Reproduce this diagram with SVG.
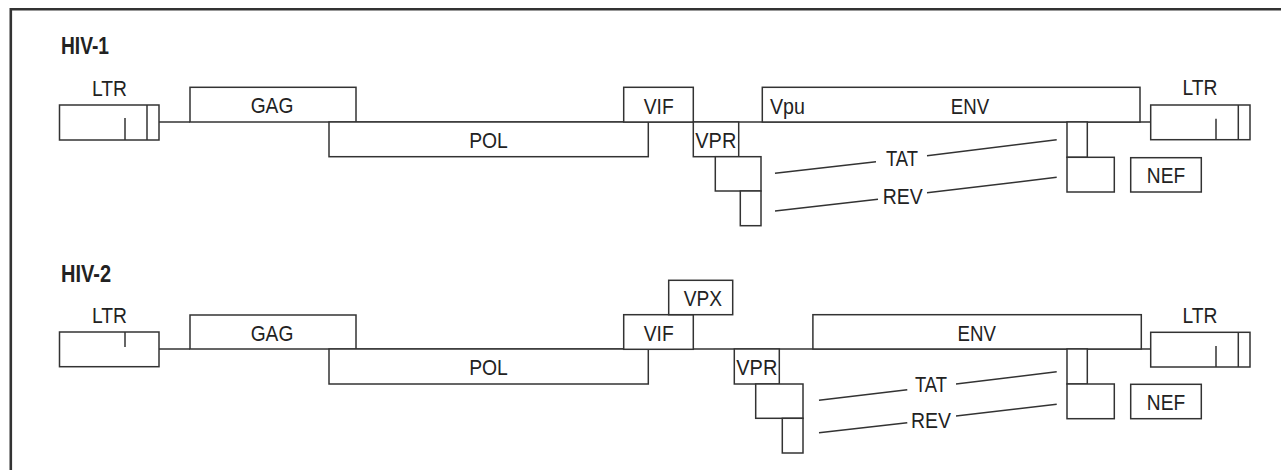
<svg xmlns="http://www.w3.org/2000/svg" width="1281" height="470" viewBox="0 0 1281 470">
<style>
.b{fill:#fff;stroke:#333;stroke-width:1.5}
.l{fill:none;stroke:#333;stroke-width:1.5}
.t{font-family:"Liberation Sans",Arial,sans-serif;font-size:22px;fill:#222;text-anchor:middle}
.s{text-anchor:start}
.h{font-family:"Liberation Sans",Arial,sans-serif;font-size:23px;font-weight:bold;fill:#222}
</style>
<rect width="1281" height="470" fill="#fff"/>
<path d="M10.8 470 V9.2 H1281" fill="none" stroke="#333" stroke-width="2.6"/>
<g id="connectors">
<line class="l" x1="159" y1="122" x2="190" y2="122"/>
<line class="l" x1="356" y1="122" x2="1151" y2="122"/>
<line class="l" x1="775" y1="173.3" x2="876" y2="161.7"/>
<line class="l" x1="927" y1="155.7" x2="1056.7" y2="139.7"/>
<line class="l" x1="775" y1="211" x2="878" y2="199.3"/>
<line class="l" x1="927" y1="192.7" x2="1056.7" y2="177.3"/>
<line class="l" x1="159" y1="349" x2="190" y2="349"/>
<line class="l" x1="356" y1="349" x2="1151" y2="349"/>
<line class="l" x1="819" y1="400.3" x2="907.3" y2="389.7"/>
<line class="l" x1="956" y1="384" x2="1056.7" y2="371.7"/>
<line class="l" x1="819" y1="432.7" x2="907.3" y2="422.7"/>
<line class="l" x1="956" y1="416" x2="1056.7" y2="404.3"/>
</g>
<g id="hiv1">
<text class="h" x="61" y="53.7" textLength="48" lengthAdjust="spacingAndGlyphs">HIV-1</text>
<g id="ltr1-left"><text class="t" x="109.5" y="95.7" textLength="35" lengthAdjust="spacingAndGlyphs">LTR</text><rect class="b" x="59.5" y="105" width="99.5" height="35"/><line class="l" x1="125" y1="118" x2="125" y2="140"/><line class="l" x1="147" y1="105" x2="147" y2="140"/></g>
<g id="gag1"><rect class="b" x="190" y="87.3" width="166" height="34.7"/><text class="t" x="272" y="113.3" textLength="42.7" lengthAdjust="spacingAndGlyphs">GAG</text></g>
<g id="pol1"><rect class="b" x="329" y="122" width="319.3" height="34.7"/><text class="t" x="488.5" y="148.3" textLength="38.7" lengthAdjust="spacingAndGlyphs">POL</text></g>
<g id="vif1"><rect class="b" x="623.7" y="87.3" width="69.6" height="34.7"/><text class="t" x="658.7" y="114" textLength="30" lengthAdjust="spacingAndGlyphs">VIF</text></g>
<g id="vpr1"><rect class="b" x="693.3" y="122" width="45.4" height="34.7"/><text class="t" x="715.8" y="148.3" textLength="41" lengthAdjust="spacingAndGlyphs">VPR</text></g>
<g id="tat1-a"><rect class="b" x="715.3" y="156.7" width="45.7" height="34.3"/></g>
<g id="rev1-a"><rect class="b" x="740.3" y="191" width="20.7" height="34.7"/></g>
<g id="env1"><rect class="b" x="762.3" y="87.3" width="377.7" height="34.7"/><text class="t s" x="770" y="114" textLength="35" lengthAdjust="spacingAndGlyphs">Vpu</text><text class="t" x="970" y="114" textLength="38.3" lengthAdjust="spacingAndGlyphs">ENV</text></g>
<text class="t" x="902" y="166" textLength="32" lengthAdjust="spacingAndGlyphs">TAT</text>
<text class="t" x="902.7" y="204" textLength="40" lengthAdjust="spacingAndGlyphs">REV</text>
<g id="tat1-b"><rect class="b" x="1067" y="122" width="20.3" height="35.3"/></g>
<g id="rev1-b"><rect class="b" x="1067" y="157.3" width="47.3" height="34.7"/></g>
<g id="nef1"><rect class="b" x="1130.7" y="157.7" width="70.6" height="34.3"/><text class="t" x="1166" y="183" textLength="38.3" lengthAdjust="spacingAndGlyphs">NEF</text></g>
<g id="ltr1-right"><text class="t" x="1200" y="95.3" textLength="35" lengthAdjust="spacingAndGlyphs">LTR</text><rect class="b" x="1150.7" y="105" width="99.3" height="34.7"/><line class="l" x1="1216" y1="118.7" x2="1216" y2="139.7"/><line class="l" x1="1238.3" y1="105" x2="1238.3" y2="139.7"/></g>
</g>
<g id="hiv2">
<text class="h" x="61" y="281.7" textLength="50" lengthAdjust="spacingAndGlyphs">HIV-2</text>
<g id="ltr2-left"><text class="t" x="109.5" y="322.7" textLength="35" lengthAdjust="spacingAndGlyphs">LTR</text><rect class="b" x="59.5" y="332" width="99.5" height="34.7"/><line class="l" x1="125" y1="332" x2="125" y2="347"/></g>
<g id="gag2"><rect class="b" x="190" y="315" width="166" height="34"/><text class="t" x="272" y="340.7" textLength="42.7" lengthAdjust="spacingAndGlyphs">GAG</text></g>
<g id="pol2"><rect class="b" x="329" y="349" width="319.3" height="35"/><text class="t" x="488.5" y="375" textLength="38.7" lengthAdjust="spacingAndGlyphs">POL</text></g>
<g id="vif2"><rect class="b" x="623.7" y="314.7" width="69.6" height="34.6"/><text class="t" x="658.7" y="341" textLength="30" lengthAdjust="spacingAndGlyphs">VIF</text></g>
<g id="vpx2"><rect class="b" x="668.7" y="280.3" width="64" height="34.4"/><text class="t" x="703" y="305.7" textLength="38.3" lengthAdjust="spacingAndGlyphs">VPX</text></g>
<g id="vpr2"><rect class="b" x="734.3" y="349" width="45" height="35"/><text class="t" x="756.8" y="375" textLength="41" lengthAdjust="spacingAndGlyphs">VPR</text></g>
<g id="tat2-a"><rect class="b" x="755.7" y="384" width="47.3" height="34.3"/></g>
<g id="rev2-a"><rect class="b" x="782.3" y="418.3" width="20.7" height="34.7"/></g>
<g id="env2"><rect class="b" x="812.9" y="314.7" width="328.4" height="34.3"/><text class="t" x="976.7" y="340.7" textLength="38.3" lengthAdjust="spacingAndGlyphs">ENV</text></g>
<text class="t" x="931" y="391.7" textLength="32" lengthAdjust="spacingAndGlyphs">TAT</text>
<text class="t" x="931" y="428.3" textLength="40" lengthAdjust="spacingAndGlyphs">REV</text>
<g id="tat2-b"><rect class="b" x="1067" y="349" width="20.3" height="35"/></g>
<g id="rev2-b"><rect class="b" x="1067" y="384" width="47.3" height="34.7"/></g>
<g id="nef2"><rect class="b" x="1130.7" y="384.3" width="70.6" height="34.4"/><text class="t" x="1166" y="410" textLength="38.3" lengthAdjust="spacingAndGlyphs">NEF</text></g>
<g id="ltr2-right"><text class="t" x="1200" y="322.7" textLength="35" lengthAdjust="spacingAndGlyphs">LTR</text><rect class="b" x="1150.7" y="332.3" width="99.3" height="34.7"/><line class="l" x1="1216" y1="346" x2="1216" y2="367"/><line class="l" x1="1238.3" y1="332.3" x2="1238.3" y2="367"/></g>
</g>
</svg>
